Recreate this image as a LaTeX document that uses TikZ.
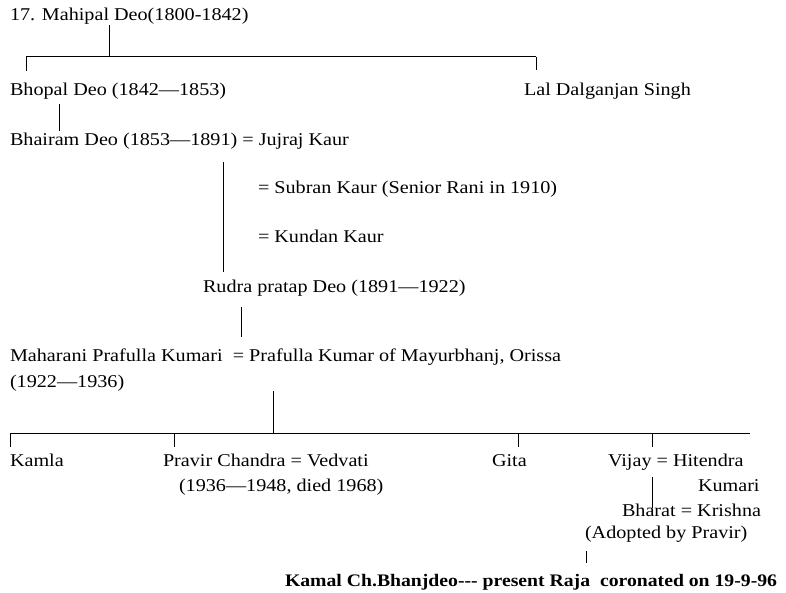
\documentclass[tikz,border=0pt]{standalone}
\usepackage{fontspec}
\setmainfont{Liberation Serif}[FakeStretch=1.12]
\usetikzlibrary{positioning}

\begin{document}
\begin{tikzpicture}[x=1pt,y=-1pt,
    person/.style={anchor=base west,inner sep=0pt,outer sep=0pt,font=\fontsize{18}{20}\selectfont},
    link/.style={line width=1pt}]
  \useasboundingbox (0,0) rectangle (786,593);

  % generation by generation
  \node[person] (mahipal) at (10,21) {17. Mahipal Deo(1800-1842)};
  \node[person] (bhopal) at (10,96) {Bhopal Deo (1842—1853)};
  \node[person] (lal) at (524,96) {Lal Dalganjan Singh};
  \node[person] (bhairam) at (10,146) {Bhairam Deo (1853—1891) = Jujraj Kaur};
  \node[person] (subran) at (258,194) {= Subran Kaur (Senior Rani in 1910)};
  \node[person] (kundan) at (258,243) {= Kundan Kaur};
  \node[person] (rudra) at (203,293) {Rudra pratap Deo (1891—1922)};
  \node[person] (maharani) at (10,361) {Maharani Prafulla Kumari\ \ = Prafulla Kumar of Mayurbhanj, Orissa};
  \node[person] (mahdates) at (10,387) {(1922—1936)};
  \node[person] (kamla) at (10,466) {Kamla};
  \node[person] (pravir) at (163,466) {Pravir Chandra = Vedvati};
  \node[person] (pravirdates) at (179,491) {(1936—1948, died 1968)};
  \node[person] (gita) at (492,466) {Gita};
  \node[person] (vijay) at (608,466) {Vijay = Hitendra};
  \node[person] (vijaywife) at (698,491) {Kumari};
  \node[person] (bharat) at (622,516) {Bharat = Krishna};
  \node[person] (adopted) at (585,538) {(Adopted by Pravir)};
  \node[person,font=\fontsize{17.6}{19}\selectfont\bfseries] (kamal) at (285,586)
    {Kamal Ch.Bhanjdeo-{}-{}- present Raja\ \ coronated on 19-9-96};

  % junctions
  \coordinate (gen1) at (109,57);
  \coordinate (bus1w) at (26,57);
  \coordinate (bus1e) at (536,57);
  \coordinate (gen2) at (59,131);
  \coordinate (gen3) at (223,272);
  \coordinate (gen4) at (241,337);
  \coordinate (gen5) at (273,433);
  \coordinate (bus2w) at (10,433);
  \coordinate (bus2e) at (750,433);
  \coordinate (gen6) at (652,508);
  \coordinate (gen7) at (586,563);

  \draw[link] (gen1 |- mahipal.south) -- (gen1);
  \draw[link] (bus1w) -- (bus1e);
  \draw[link] (bus1w) -- ++(0,14);
  \draw[link] (bus1e) -- ++(0,13);
  \draw[link,shorten <=4pt] (gen2 |- bhopal.south) -- (gen2);
  \draw[link,shorten <=12pt] (gen3 |- bhairam.south) -- (gen3);
  \draw[link,shorten <=10pt] (gen4 |- rudra.south) -- (gen4);
  \draw[link] (gen5 |- mahdates.south) -- (gen5);
  \draw[link] (bus2w) -- (bus2e);
  \foreach \n/\x in {kamla/10,pravir/174,gita/518,vijay/652} {
    \coordinate (t\n) at (\x,433);
    \draw[link,shorten >=7pt] (t\n) -- (t\n |- \n.north);
  }
  \draw[link,shorten <=7pt] (gen6 |- vijay.south) -- (gen6);
  \draw[link,shorten <=9pt] (gen7 |- adopted.south) -- (gen7);
\end{tikzpicture}
\end{document}
